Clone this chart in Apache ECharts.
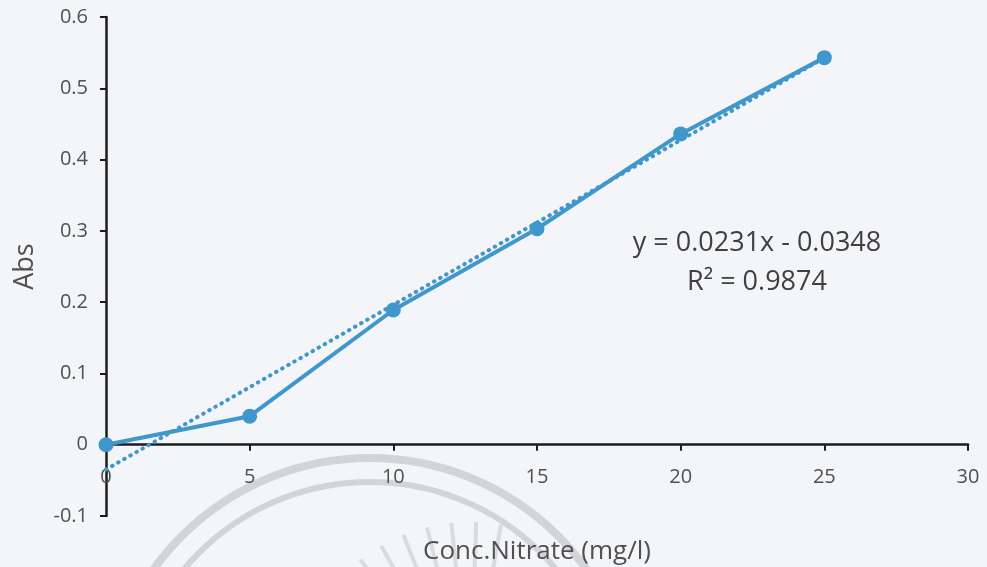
<!DOCTYPE html>
<html>
<head>
<meta charset="utf-8">
<script src="https://cdn.jsdelivr.net/npm/echarts@6/dist/echarts.min.js"></script>
<style>
  html, body { margin: 0; padding: 0; background: #f3f5f8; }
  #chart { width: 987px; height: 567px; }
</style>
</head>
<body>
<div id="chart"></div>
<script>
// Calibration data: nitrate concentration (mg/l) vs absorbance
const concentration = [0, 5, 10, 15, 20, 25];
const absorbance = [0, 0.04, 0.189, 0.303, 0.436, 0.543];

// Linear fit reported for the calibration
const slope = 0.0231;
const intercept = -0.0348;
const rSquared = 0.9874;
const trendRange = [0, 25];

const xTicks = { min: 0, max: 30, step: 5 };
const yTicks = { min: -0.1, max: 0.6, step: 0.1 };

const lineColor = '#3f97cb';
const textColor = '#505050';
const axisColor = '#1c1c1c';
const fontFamily = "'Open Sans', 'Noto Sans', sans-serif";

const measured = concentration.map((x, i) => [x, absorbance[i]]);
const trend = trendRange.map(x => [x, slope * x + intercept]);

// Plot area geometry; the concentration axis sits on the Abs = 0 line
const plotLeft = 106, plotRight = 19, plotTop = 17, plotBottom = 51;
const chartHeight = 567;
const plotHeight = chartHeight - plotTop - plotBottom;
const zeroFromBottom = plotBottom + plotHeight * (0 - yTicks.min) / (yTicks.max - yTicks.min);

// Faint circular emblem in the lower part of the page
const emblem = [];
const cx = 370, cy = 724;
[[266, 8], [242, 6]].forEach(([r, w]) => {
  emblem.push({
    type: 'arc', silent: true, z: 0,
    shape: { cx, cy, r, startAngle: Math.PI, endAngle: Math.PI * 2, clockwise: true },
    style: { stroke: 'rgba(150,150,150,0.34)', lineWidth: w, fill: null }
  });
});
const rayCenter = [470, 700];
for (let deg = -62; deg <= 14; deg += 8) {
  const a = (deg - 90) * Math.PI / 180;
  emblem.push({
    type: 'line', silent: true, z: 0,
    shape: {
      x1: rayCenter[0] + Math.cos(a) * 130, y1: rayCenter[1] + Math.sin(a) * 130,
      x2: rayCenter[0] + Math.cos(a) * 178, y2: rayCenter[1] + Math.sin(a) * 178
    },
    style: { stroke: 'rgba(160,160,160,0.3)', lineWidth: 4 }
  });
}

const chart = echarts.init(document.getElementById('chart'));
chart.setOption({
  backgroundColor: '#f3f5f8',
  animation: false,
  textStyle: { fontFamily },
  grid: [
    { left: plotLeft, right: plotRight, top: plotTop, bottom: plotBottom, containLabel: false, outerBoundsMode: 'none' },
    { left: plotLeft, right: plotRight, top: plotTop, bottom: zeroFromBottom, containLabel: false, outerBoundsMode: 'none' }
  ],
  xAxis: [
    {
      gridIndex: 0, type: 'value', show: false,
      min: xTicks.min, max: xTicks.max, interval: xTicks.step
    },
    {
      gridIndex: 1, type: 'value', position: 'bottom',
      min: xTicks.min, max: xTicks.max, interval: xTicks.step,
      name: 'Conc.Nitrate (mg/l)',
      nameLocation: 'middle',
      nameGap: 94,
      nameTextStyle: { color: textColor, fontSize: 26, fontFamily },
      axisLine: { onZero: false, lineStyle: { color: axisColor, width: 2.5 } },
      axisTick: { show: true, length: 6, lineStyle: { color: axisColor, width: 2 } },
      axisLabel: { color: textColor, fontSize: 20, margin: 23, fontFamily },
      splitLine: { show: false }
    }
  ],
  yAxis: [
    {
      gridIndex: 0, type: 'value',
      min: yTicks.min, max: yTicks.max, interval: yTicks.step,
      name: 'Abs',
      nameLocation: 'middle',
      nameRotate: 90,
      nameGap: 67,
      nameTextStyle: { color: textColor, fontSize: 27, fontFamily },
      axisLine: { show: true, onZero: false, lineStyle: { color: axisColor, width: 2.5 } },
      axisTick: { show: true, length: 6, lineStyle: { color: axisColor, width: 2 } },
      axisLabel: { color: textColor, fontSize: 20, margin: 18, fontFamily },
      splitLine: { show: false }
    },
    {
      gridIndex: 1, type: 'value', show: false,
      min: 0, max: yTicks.max
    }
  ],
  graphic: emblem.concat([
    {
      type: 'text', z: 10,
      x: 757, y: 243,
      style: {
        text: 'y = ' + slope.toFixed(4) + 'x - ' + Math.abs(intercept).toFixed(4),
        fill: '#404040', font: '27px ' + fontFamily,
        textAlign: 'center', textVerticalAlign: 'middle'
      }
    },
    {
      type: 'text', z: 10,
      x: 757, y: 282,
      style: {
        text: 'R² = ' + rSquared.toFixed(4),
        fill: '#404040', font: '27px ' + fontFamily,
        textAlign: 'center', textVerticalAlign: 'middle'
      }
    }
  ]),
  series: [
    {
      name: 'Linear fit',
      type: 'line',
      xAxisIndex: 0, yAxisIndex: 0,
      data: trend,
      showSymbol: false,
      symbol: 'none',
      lineStyle: { color: lineColor, width: 4, type: [0.5, 6.5], cap: 'round' },
      z: 3
    },
    {
      name: 'Abs',
      type: 'line',
      xAxisIndex: 0, yAxisIndex: 0,
      data: measured,
      symbol: 'circle',
      symbolSize: 15,
      itemStyle: { color: lineColor },
      lineStyle: { color: lineColor, width: 4 },
      z: 4
    }
  ]
});
</script>
</body>
</html>
